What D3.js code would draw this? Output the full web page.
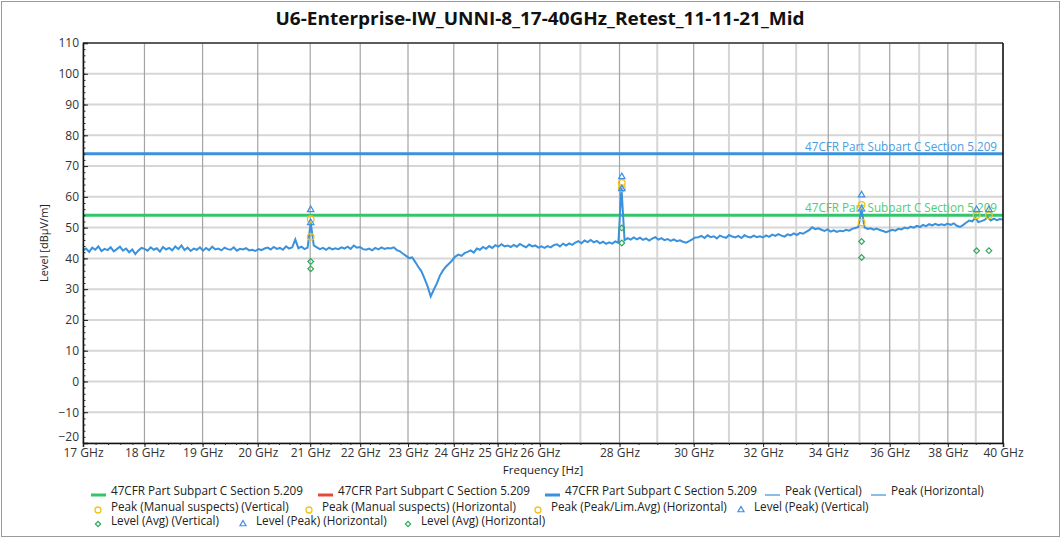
<!DOCTYPE html>
<html>
<head>
<meta charset="utf-8">
<script src="https://cdn.jsdelivr.net/npm/d3@7"></script>
<style>
  html, body { margin: 0; padding: 0; background: #fff; }
  svg { display: block; }
  text { font-family: "Open Sans", "Noto Sans", sans-serif; }
</style>
</head>
<body>
<svg id="chart" width="1062" height="538"></svg>
<script>
// ---------------- DATA ----------------
const chartTitle = "U6-Enterprise-IW_UNNI-8_17-40GHz_Retest_11-11-21_Mid";
const xAxisTitle = "Frequency [Hz]";
const yAxisTitle = "Level [dBµV/m]";

const xTickGHz = [17, 18, 19, 20, 21, 22, 23, 24, 25, 26, 28, 30, 32, 34, 36, 38, 40];
const xMinorGridGHz = [27, 29, 31, 33, 35, 37, 39];
const yTickValues = [-20, -10, 0, 10, 20, 30, 40, 50, 60, 70, 80, 90, 100, 110];

const sweepStartGHz = 17;
const sweepStopGHz = 40;

// measured trace (sweep points, 17 -> 40 GHz)
const traceLevels = [
  42.6, 43.2, 42.1, 43.5, 42.8, 43.9, 42.4, 43.1, 42.7, 43.6, 42.3, 43.0, 43.8, 42.5, 43.2, 42.0, 42.9, 41.4, 42.6, 43.4,
  43.1, 42.5, 43.6, 42.8, 43.3, 42.2, 43.7, 42.9, 43.4, 42.6, 43.9, 43.0, 44.2, 42.7, 43.5, 42.4, 43.2, 42.8, 43.6, 42.5,
  43.4, 42.7, 43.8, 42.9, 43.2, 42.6, 43.5, 43.0, 42.8, 43.6, 42.5, 43.1, 42.9, 43.3, 42.6, 42.8, 42.4, 43.0, 42.7, 43.2,
  43.5, 42.9, 43.7, 43.1, 43.4, 42.8, 43.9, 43.2, 43.6, 46.2, 43.3, 43.8, 43.0, 43.5, 51.6, 44.2, 43.6, 43.0, 43.4, 42.8,
  43.5, 42.9, 43.3, 43.0, 43.6, 43.2, 43.8, 43.1, 44.2, 43.5, 43.7, 43.0, 42.8, 43.2, 42.6, 43.4, 42.9, 43.6, 43.1, 43.4,
  43.2, 43.6, 42.7, 42.3, 41.5, 40.8, 40.1, 40.3, 38.8, 37.2, 35.8, 33.4, 30.9, 27.6, 29.8, 31.9, 34.4, 36.1, 37.4, 38.3,
  39.4, 40.6, 41.2, 40.8, 41.7, 42.1, 42.6, 41.9, 43.2, 42.8, 43.7, 43.1, 44.0, 43.4, 44.3, 43.8, 44.6, 43.9, 44.2, 43.7,
  44.4, 43.8, 44.7, 44.1, 43.6, 44.5, 43.9, 44.2, 43.5, 43.9, 43.4, 44.0, 43.6, 44.3, 44.6, 43.9, 44.8, 44.2, 44.9, 44.4,
  45.1, 45.6, 44.9, 45.8, 45.3, 46.0, 45.2, 45.7, 44.9, 45.4, 44.7, 45.2, 44.8, 45.5, 45.1, 63.0, 45.9, 46.6, 46.1, 46.8,
  46.2, 46.7, 46.0, 46.5, 45.8, 46.4, 46.9, 46.1, 46.6, 45.9, 46.3, 45.7, 46.2, 45.6, 45.9, 45.4, 45.1, 45.6, 46.2, 46.8,
  46.9, 47.3, 46.6, 47.5, 46.9, 47.2, 46.5, 47.4, 47.0, 46.7, 47.6, 47.1, 46.8, 47.3, 46.6, 47.5, 47.0, 46.8, 47.4, 46.9,
  47.2, 46.8, 47.5, 47.0, 47.7, 47.3, 47.9, 47.4, 47.1, 47.8, 47.5, 48.1, 47.6, 48.3, 48.0, 48.6, 49.2, 50.1, 49.5, 49.8,
  49.3, 48.9, 49.4, 48.7, 49.1, 48.6, 49.0, 48.8, 49.3, 49.0, 49.6, 49.9, 50.2, 56.0, 50.1, 49.6, 49.8, 49.3, 49.7, 49.2,
  48.9, 48.5, 48.9, 49.3, 49.0, 49.6, 49.4, 50.0, 49.7, 50.3, 50.0, 50.6, 50.2, 50.9, 50.5, 51.1, 50.7, 51.2, 50.8, 51.1,
  50.8, 51.3, 50.9, 51.4, 50.6, 50.2, 50.8, 51.6, 52.3, 52.0, 53.2, 51.8, 52.1, 52.5, 53.4, 52.3, 52.9, 52.4, 52.8, 52.6
];

// limit lines
const limitNames = ["47CFR Part Subpart C Section 5.209", "47CFR Part Subpart C Section 5.209"];
const limitLevels = [74, 54];

// final measurement markers  [GHz, dBµV/m]
const peakTriangles = [[21.01, 55.8], [21.01, 51.6], [28.06, 66.5], [28.06, 62.6], [35.07, 60.6], [35.07, 56.0], [39.03, 55.8], [39.48, 55.8]];
const peakCircles   = [[21.01, 52.7], [21.01, 47.0], [28.06, 64.5], [28.06, 62.8], [35.07, 57.4], [35.07, 51.7], [39.03, 54.0], [39.48, 54.0]];
const avgDiamonds   = [[21.01, 39.0], [21.01, 36.6], [28.06, 49.9], [28.06, 45.0], [35.07, 45.5], [35.07, 40.3], [39.03, 42.5], [39.48, 42.5]];

const legendLabels = [
  ["47CFR Part Subpart C Section 5.209", "47CFR Part Subpart C Section 5.209", "47CFR Part Subpart C Section 5.209", "Peak (Vertical)", "Peak (Horizontal)"],
  ["Peak (Manual suspects) (Vertical)", "Peak (Manual suspects) (Horizontal)", "Peak (Peak/Lim.Avg) (Horizontal)", "Level (Peak) (Vertical)"],
  ["Level (Avg) (Vertical)", "Level (Peak) (Horizontal)", "Level (Avg) (Horizontal)"]
];
const legendKinds = [
  ["limGreen", "limRed", "limBlue", "thin", "thin"],
  ["circle", "circle", "circle", "triangle"],
  ["diamond", "triangle", "diamond"]
];

// ---------------- STYLE / LAYOUT ----------------
const C = {
  blue: "#3a91dc", green: "#34c46c", red: "#e8473c", yellow: "#f2c21b",
  dgreen: "#2faa5a", mblue: "#3d8fe6", blueText: "#4a9de0", greenText: "#4ccc78"
};
const plot = { left: 83, right: 1003, top: 43, bottom: 443 };
const legendX = [[91, 318, 545, 765, 871], [98, 309, 538, 741], [98, 243, 408]];
const legendY = [491, 507, 521];
const FS = 11.7;

const svg = d3.select("#chart");

const x = d3.scaleLog().domain([sweepStartGHz, sweepStopGHz]).range([plot.left, plot.right]);
const y = d3.scaleLinear().domain([-20, 110]).range([plot.bottom, plot.top]);

// outer frame
svg.append("rect").attr("x", 1.5).attr("y", 1.5).attr("width", 1058).attr("height", 535)
  .attr("fill", "none").attr("stroke", "#9a9a9a").attr("stroke-width", 1);

// title
svg.append("text").attr("x", 540).attr("y", 25).attr("text-anchor", "middle")
  .attr("font-size", 17.5).attr("font-weight", "bold").attr("fill", "#111")
  .attr("textLength", 529).attr("lengthAdjust", "spacingAndGlyphs")
  .text(chartTitle);

// grid
const grid = svg.append("g");
grid.selectAll(".hg").data(yTickValues).join("line")
  .attr("x1", plot.left).attr("x2", plot.right)
  .attr("y1", d => y(d)).attr("y2", d => y(d))
  .attr("stroke", "#d6d6d6").attr("stroke-width", 2);
grid.selectAll(".vgm").data(xMinorGridGHz).join("line")
  .attr("x1", d => x(d)).attr("x2", d => x(d))
  .attr("y1", plot.top).attr("y2", plot.bottom)
  .attr("stroke", "#d6d6d6").attr("stroke-width", 2);
grid.selectAll(".vg").data(xTickGHz).join("line")
  .attr("x1", d => x(d)).attr("x2", d => x(d))
  .attr("y1", plot.top).attr("y2", plot.bottom)
  .attr("stroke", "#a4a4a4").attr("stroke-width", 1.2);

// limit lines
const limColors = [C.blue, C.green];
const limTextColors = [C.blueText, C.greenText];
limitLevels.forEach((lv, i) => {
  svg.append("line").attr("x1", plot.left).attr("x2", plot.right)
    .attr("y1", y(lv)).attr("y2", y(lv))
    .attr("stroke", limColors[i]).attr("stroke-width", 3);
});

// trace
const sweepFreqs = traceLevels.map((_, i) =>
  sweepStartGHz * Math.pow(sweepStopGHz / sweepStartGHz, i / (traceLevels.length - 1)));
const line = d3.line().x((d, i) => x(sweepFreqs[i])).y(d => y(d));
svg.append("path").datum(traceLevels).attr("d", line)
  .attr("fill", "none").attr("stroke", C.blue).attr("stroke-width", 2)
  .attr("stroke-linejoin", "miter");

// limit labels (on top of trace)
limitLevels.forEach((lv, i) => {
  svg.append("text").attr("x", 997).attr("y", y(lv) - 3).attr("text-anchor", "end")
    .attr("font-size", FS).attr("fill", limTextColors[i]).text(limitNames[i]);
});

// markers
const sym = (type, size) => d3.symbol().type(type).size(size)();
svg.append("g").selectAll("path").data(avgDiamonds).join("path")
  .attr("transform", d => `translate(${x(d[0])},${y(d[1])}) rotate(45)`)
  .attr("d", sym(d3.symbolSquare, 16))
  .attr("fill", "none").attr("stroke", C.dgreen).attr("stroke-width", 1.2);
svg.append("g").selectAll("circle").data(peakCircles).join("circle")
  .attr("cx", d => x(d[0])).attr("cy", d => y(d[1])).attr("r", 3.3)
  .attr("fill", "none").attr("stroke", C.yellow).attr("stroke-width", 1.3);
svg.append("g").selectAll("path").data(peakTriangles).join("path")
  .attr("transform", d => `translate(${x(d[0])},${y(d[1])})`)
  .attr("d", sym(d3.symbolTriangle, 18))
  .attr("fill", "none").attr("stroke", C.mblue).attr("stroke-width", 1.2);

// axes
const axisG = svg.append("g");
axisG.append("line").attr("x1", plot.left).attr("x2", plot.right).attr("y1", plot.top).attr("y2", plot.top)
  .attr("stroke", "#333").attr("stroke-width", 1.5);
axisG.append("line").attr("x1", plot.right).attr("x2", plot.right).attr("y1", plot.top).attr("y2", plot.bottom)
  .attr("stroke", "#111").attr("stroke-width", 1.5);

const yAxis = d3.axisLeft(y).tickValues(yTickValues).tickSize(-5).tickPadding(4).tickFormat(d3.format("d"));
const gy = svg.append("g").attr("transform", `translate(${plot.left},0)`).call(yAxis);
const yMinor = d3.axisLeft(y).tickValues(d3.range(-20, 111, 2)).tickSize(-2.5).tickFormat("");
svg.append("g").attr("transform", `translate(${plot.left},0)`).call(yMinor).select(".domain").remove();

const xAxis = d3.axisBottom(x).tickValues(xTickGHz).tickSize(4).tickPadding(1).tickFormat(d => d + " GHz");
const gx = svg.append("g").attr("transform", `translate(0,${plot.bottom})`).call(xAxis);
const xMinorVals = d3.range(17, 26, 0.2).concat(d3.range(26, 40.01, 0.5));
const xMinor = d3.axisBottom(x).tickValues(xMinorVals).tickSize(2).tickFormat("");
svg.append("g").attr("transform", `translate(0,${plot.bottom})`).call(xMinor).select(".domain").remove();

[gx, gy].forEach(g => {
  g.select(".domain").attr("stroke", "#111").attr("stroke-width", 1.5);
  g.selectAll(".tick text").attr("font-size", 12).attr("fill", "#333")
    .style("font-family", '"Open Sans", sans-serif');
});
svg.selectAll(".tick line").attr("stroke", "#222");
// lowest y label sits slightly above its tick, clear of the x labels
gy.selectAll(".tick").filter(d => d === -20).select("text").attr("dy", "-0.25em");

// axis titles
svg.append("text").attr("x", 543).attr("y", 474).attr("text-anchor", "middle")
  .attr("font-size", 11.5).attr("fill", "#222").text(xAxisTitle);
svg.append("text").attr("transform", "translate(48,243) rotate(-90)").attr("text-anchor", "middle")
  .attr("font-size", 11).attr("fill", "#222").text(yAxisTitle);

// legend
const lg = svg.append("g");
legendLabels.forEach((row, r) => {
  row.forEach((label, k) => {
    const kind = legendKinds[r][k];
    const lx = legendX[r][k];
    const ly = legendY[r];
    let textX;
    if (kind.startsWith("lim") || kind === "thin") {
      const col = kind === "limGreen" ? C.green : kind === "limRed" ? C.red : C.blue;
      lg.append("line").attr("x1", lx).attr("x2", lx + 15).attr("y1", ly + 4).attr("y2", ly + 4)
        .attr("stroke", col).attr("stroke-width", kind === "thin" ? 1.2 : 3);
      textX = lx + 20;
    } else {
      const my = ly + 3;
      if (kind === "circle") {
        lg.append("circle").attr("cx", lx).attr("cy", my).attr("r", 3)
          .attr("fill", "none").attr("stroke", C.yellow).attr("stroke-width", 1.3);
      } else if (kind === "triangle") {
        lg.append("path").attr("transform", `translate(${lx},${my})`).attr("d", sym(d3.symbolTriangle, 16))
          .attr("fill", "none").attr("stroke", C.mblue).attr("stroke-width", 1.2);
      } else {
        lg.append("path").attr("transform", `translate(${lx},${my}) rotate(45)`).attr("d", sym(d3.symbolSquare, 14))
          .attr("fill", "none").attr("stroke", C.dgreen).attr("stroke-width", 1.2);
      }
      textX = lx + 13;
    }
    lg.append("text").attr("x", textX).attr("y", ly + 4).attr("font-size", FS).attr("fill", "#222").text(label);
  });
});
</script>
</body>
</html>
